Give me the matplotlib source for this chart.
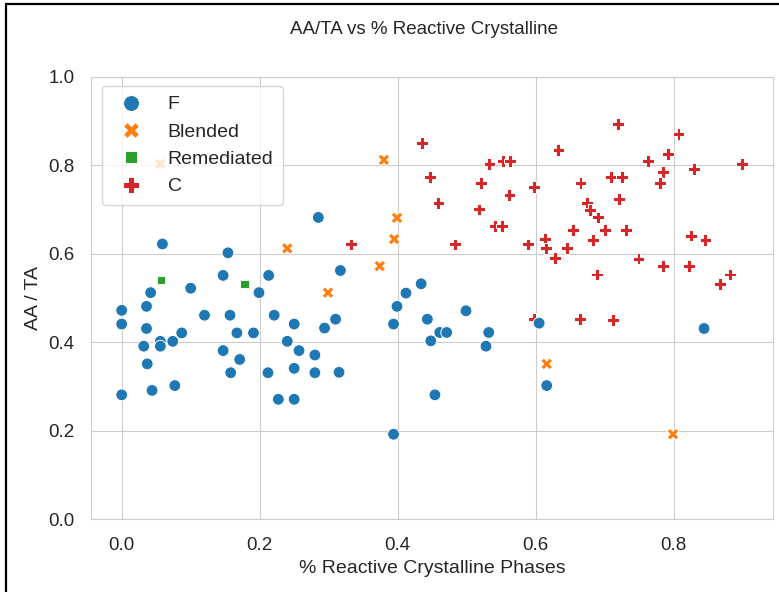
import pandas as pd
import seaborn as sns
import matplotlib.pyplot as plt
from matplotlib.lines import Line2D

# F: fly ash source classes
f_x = [0.285, 0.059, 0.154, 0.317, 0.147, 0.213, 0.042, 0.100, 0.199, 0.000,
       0.036, 0.000, 0.036, 0.120, 0.157, 0.221, 0.310, 0.250, 0.294, 0.087,
       0.167, 0.191, 0.056, 0.056, 0.074, 0.032, 0.240, 0.147, 0.257, 0.280,
       0.171, 0.037, 0.158, 0.212, 0.250, 0.280, 0.315, 0.044, 0.077, 0.000,
       0.227, 0.250, 0.434, 0.412, 0.399, 0.499, 0.394, 0.443, 0.461, 0.471,
       0.532, 0.448, 0.528, 0.605, 0.616, 0.454, 0.394, 0.844]
f_y = [0.682, 0.622, 0.602, 0.562, 0.551, 0.551, 0.512, 0.522, 0.512, 0.472,
       0.481, 0.441, 0.431, 0.461, 0.461, 0.461, 0.452, 0.441, 0.432, 0.421,
       0.421, 0.421, 0.402, 0.391, 0.402, 0.391, 0.402, 0.381, 0.381, 0.371,
       0.361, 0.351, 0.331, 0.331, 0.341, 0.331, 0.332, 0.291, 0.302, 0.281,
       0.271, 0.271, 0.532, 0.511, 0.481, 0.471, 0.441, 0.452, 0.422, 0.422,
       0.422, 0.403, 0.391, 0.443, 0.302, 0.281, 0.192, 0.431]

blended_x = [0.056, 0.240, 0.299, 0.380, 0.399, 0.395, 0.374, 0.616, 0.799]
blended_y = [0.803, 0.612, 0.512, 0.812, 0.681, 0.633, 0.572, 0.351, 0.192]

remediated_x = [0.057, 0.178]
remediated_y = [0.541, 0.532]

c_x = [0.435, 0.533, 0.553, 0.563, 0.633, 0.447, 0.521, 0.562, 0.598, 0.459,
       0.518, 0.541, 0.551, 0.654, 0.332, 0.483, 0.589, 0.613, 0.615, 0.645,
       0.628, 0.597, 0.664, 0.719, 0.807, 0.792, 0.763, 0.899, 0.784, 0.830,
       0.780, 0.709, 0.725, 0.665, 0.721, 0.674, 0.679, 0.690, 0.701, 0.731,
       0.683, 0.825, 0.846, 0.749, 0.784, 0.822, 0.882, 0.867, 0.689, 0.712]
c_y = [0.851, 0.802, 0.810, 0.810, 0.834, 0.774, 0.760, 0.732, 0.751, 0.714,
       0.700, 0.663, 0.663, 0.654, 0.621, 0.621, 0.621, 0.633, 0.612, 0.613,
       0.591, 0.452, 0.452, 0.893, 0.870, 0.825, 0.810, 0.802, 0.784, 0.791,
       0.759, 0.773, 0.773, 0.759, 0.723, 0.715, 0.699, 0.682, 0.654, 0.654,
       0.631, 0.641, 0.631, 0.589, 0.572, 0.572, 0.553, 0.531, 0.553, 0.451]

classes = ["F", "Blended", "Remediated", "C"]

df = pd.concat([
    pd.DataFrame({"x": c_x, "y": c_y, "Class": "C"}),
    pd.DataFrame({"x": blended_x, "y": blended_y, "Class": "Blended"}),
    pd.DataFrame({"x": remediated_x, "y": remediated_y, "Class": "Remediated"}),
    pd.DataFrame({"x": f_x, "y": f_y, "Class": "F"}),
], ignore_index=True)

sns.set_style("whitegrid")
plt.rcParams['font.family'] = ['Liberation Sans', 'DejaVu Sans']

fig = plt.figure(figsize=(7.79, 5.92), dpi=100)
ax = fig.add_axes([0.1164, 0.123, 0.8759, 0.7474])

sns.scatterplot(data=df, x="x", y="y", hue="Class", style="Class",
                hue_order=classes, style_order=classes, palette="tab10",
                s=72, ax=ax)

ax.set_ylim(0, 1.0)
ax.set_yticks([0.0, 0.2, 0.4, 0.6, 0.8, 1.0])
ax.set_xticks([0.0, 0.2, 0.4, 0.6, 0.8])
ax.tick_params(axis='both', labelsize=13.5, colors='.15')
ax.tick_params(axis='x', pad=9)
ax.tick_params(axis='y', pad=8)
ax.set_title("AA/TA vs % Reactive Crystalline", fontsize=13.5, color='.15',
             x=0.4885, pad=31)
ax.set_xlabel("% Reactive Crystalline Phases", fontsize=14, color='.15', labelpad=5)
ax.set_ylabel("AA / TA", fontsize=14, color='.15', labelpad=5)

handles, labels = ax.get_legend_handles_labels()
ax.legend(handles, labels, loc='upper left', bbox_to_anchor=(0.016, 0.979),
          borderaxespad=0, fontsize=14, handletextpad=0.9, labelspacing=0.5,
          borderpad=0.5, markerscale=1.35)

# black frame along the left and top edges
fig.add_artist(Line2D([6 / 779, 6 / 779], [0, 1 - 3.5 / 592], transform=fig.transFigure,
                      color='black', linewidth=1.6))
fig.add_artist(Line2D([6 / 779, 1], [1 - 3.5 / 592, 1 - 3.5 / 592], transform=fig.transFigure,
                      color='black', linewidth=1.6))

fig.savefig("out.png", dpi=100)
